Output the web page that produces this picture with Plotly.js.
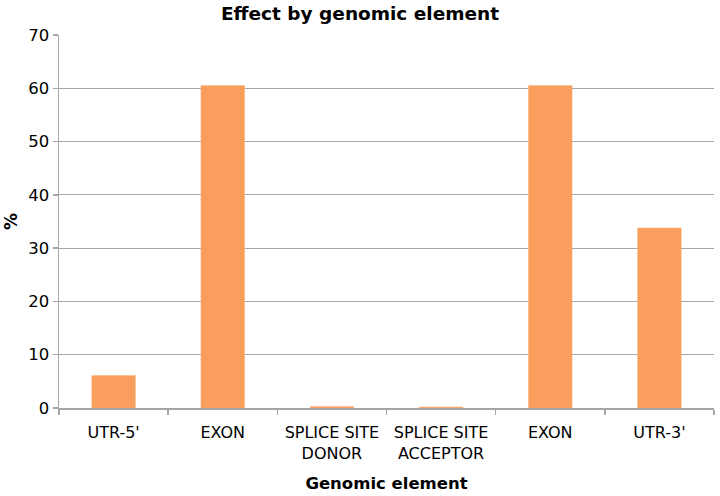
<!DOCTYPE html>
<html>
<head>
<meta charset="utf-8">
<script src="https://cdn.plot.ly/plotly-3.0.1.min.js"></script>
<style>html,body{margin:0;padding:0;background:#fff}#chart{width:720px;height:496px}</style>
</head>
<body>
<div id="chart"></div>
<script>
const categories = ["UTR-5'", "EXON", "SPLICE SITE<br>DONOR", "SPLICE SITE<br>ACCEPTOR", "EXON", "UTR-3'"];
const values = [6.1, 60.5, 0.3, 0.2, 60.5, 33.8];
const yTicks = [0, 10, 20, 30, 40, 50, 60, 70];

const positions = categories.map((_, i) => i);
const boundaries = categories.map((_, i) => i - 0.5).concat([categories.length - 0.5]);

const trace = {
  type: 'bar',
  x: positions,
  y: values,
  width: 0.4,
  marker: {color: '#f99e5c', line: {color: '#fbb47f', width: 0.5}},
  hoverinfo: 'x+y'
};

const font = 'DejaVu Sans, sans-serif';
const layout = {
  width: 720, height: 496,
  margin: {l: 59, r: 6, t: 35, b: 88},
  paper_bgcolor: '#ffffff',
  plot_bgcolor: '#ffffff',
  showlegend: false,
  title: {text: '<b>Effect by genomic element</b>', x: 0.5, xanchor: 'center', y: 0.972, yanchor: 'middle',
          font: {family: font, size: 18.5, color: '#000'}},
  xaxis: {
    range: [-0.5, categories.length - 0.5],
    tickmode: 'array', tickvals: positions, ticktext: categories,
    ticks: '', showgrid: false, zeroline: false,
    showline: true, linecolor: '#a6a6a6', linewidth: 1.5,
    ticklabelstandoff: 9,
    tickfont: {family: font, size: 16, color: '#000'},
    minor: {tickmode: 'array', tickvals: boundaries, ticks: 'outside', ticklen: 5, tickwidth: 1.5, tickcolor: '#a6a6a6', showgrid: false},
    title: {text: '<b>Genomic element</b>', standoff: 16, font: {family: font, size: 16.5, color: '#000'}},
    fixedrange: true
  },
  yaxis: {
    range: [0, 70],
    tickmode: 'array', tickvals: yTicks,
    ticks: 'outside', ticklen: 5, tickwidth: 1.5, tickcolor: '#a6a6a6',
    showgrid: true, gridcolor: '#a8a8a8', gridwidth: 1.2,
    zeroline: false, showline: true, linecolor: '#a6a6a6', linewidth: 1.5,
    tickfont: {family: font, size: 16.5, color: '#000'},
    title: {text: '<b>%</b>', standoff: 6, font: {family: font, size: 17, color: '#000'}},
    fixedrange: true
  }
};

Plotly.newPlot('chart', [trace], layout, {displayModeBar: false, staticPlot: true});
</script>
</body>
</html>
